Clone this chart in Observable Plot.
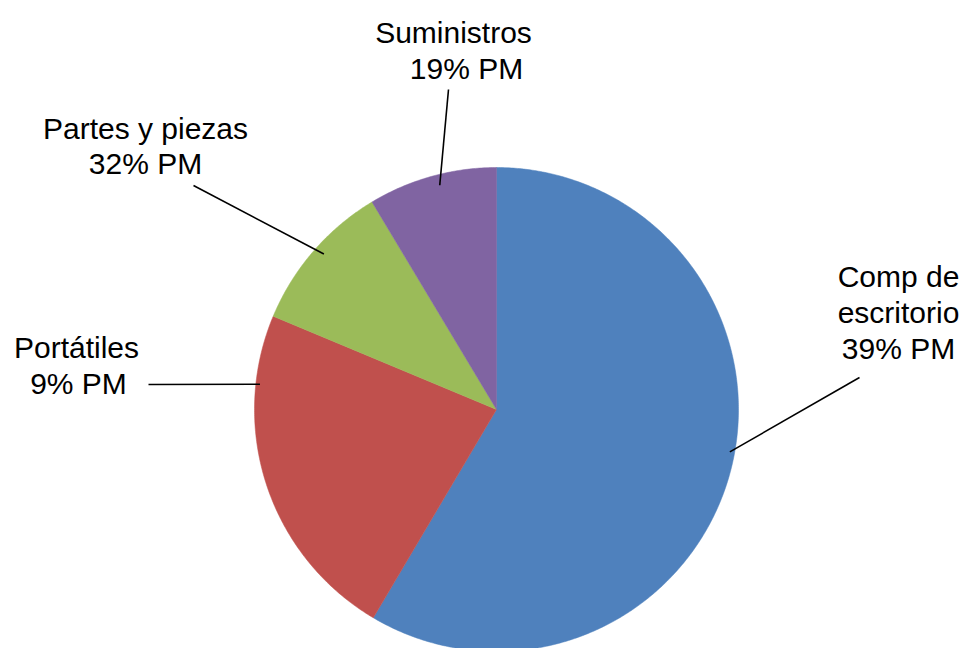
<!DOCTYPE html>
<html><head><meta charset="utf-8">
<script src="https://cdn.jsdelivr.net/npm/d3@7"></script>
<script src="https://cdn.jsdelivr.net/npm/@observablehq/plot@0.6"></script>
<style>html,body{margin:0;padding:0;background:#fff;overflow:hidden}</style>
</head><body><div id="chart"></div>
<script>
// ---- data ----
const categories = ["Comp de escritorio", "Portátiles", "Partes y piezas", "Suministros"];
const shares = [58.5, 22.8, 10.1, 8.6];
const labelLines = [["Comp de", "escritorio", "39% PM"], ["Portátiles", "9% PM"], ["Partes y piezas", "32% PM"], ["Suministros", "19% PM"]];
const colors = ["#4F81BD", "#C0504D", "#9BBB59", "#8064A2"];

// ---- layout ----
const W = 968, H = 648, CX = 496, CY = 409, R = 242;
const labelPos = [[898, 286], [76, 357], [145, 138], [453, 42]];
const lineDx = [[0, 0, 0], [0, 2], [0, 0], [0, 13]];
const lineGap = [36, 36, 35, 36];
const leaderAngle = [100.3, 276.1, 312.0, 345.8];
const leaderInner = [0.98, 0.983, 0.96, 0.956];
const leaderOuter = [[859, 377], [148, 384], [193, 185], [448, 89]];

const pie = d3.pie().sort(null).value(d => d.v)(categories.map((c, i) => ({c, v: shares[i], i})));
const pt = (a, r) => ({x: CX + r * Math.sin(a), y: CY - r * Math.cos(a)});

const sliceMarks = pie.map(s => {
  const pts = [{x: CX, y: CY}];
  const n = Math.max(2, Math.ceil((s.endAngle - s.startAngle) / (Math.PI / 360)));
  for (let k = 0; k <= n; k++) pts.push(pt(s.startAngle + (s.endAngle - s.startAngle) * k / n, R));
  pts.push({x: CX, y: CY});
  const col = colors[s.data.i];
  return Plot.line(pts, {x: "x", y: "y", fill: col, stroke: col, strokeWidth: 0.5, curve: "linear"});
});

const texts = [];
labelLines.forEach((lines, i) => {
  lines.forEach((t, j) => texts.push({t, x: labelPos[i][0] + lineDx[i][j], y: labelPos[i][1] + j * lineGap[i]}));
});

const leaders = categories.map((c, i) => {
  const p = pt(leaderAngle[i] * Math.PI / 180, R * leaderInner[i]);
  return {x1: leaderOuter[i][0], y1: leaderOuter[i][1], x2: p.x, y2: p.y};
});

const chart = Plot.plot({
  width: W, height: H, margin: 0,
  x: {domain: [0, W], range: [0, W], axis: null},
  y: {domain: [0, H], range: [0, H], axis: null},
  style: {background: "#fff"},
  marks: [
    ...sliceMarks,
    Plot.link(leaders, {x1: "x1", y1: "y1", x2: "x2", y2: "y2", stroke: "#000", strokeWidth: 1.6}),
    Plot.text(texts, {x: "x", y: "y", text: "t", fontSize: 30, fontFamily: "Liberation Sans, Arial, sans-serif", textAnchor: "middle", lineAnchor: "bottom", fill: "#000"})
  ]
});
document.getElementById("chart").appendChild(chart);
</script>
</body></html>
